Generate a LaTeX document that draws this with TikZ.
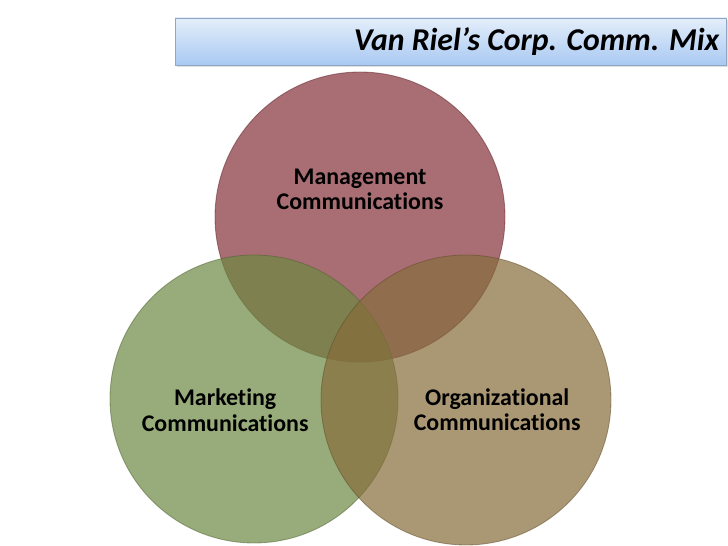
\documentclass[tikz,border=0pt]{standalone}
\usepackage{fontspec}
\setmainfont{Carlito}[Ligatures=CommonOff]
\usetikzlibrary{positioning,calc,shadows}
\definecolor{mgmtred}{RGB}{131,48,56}
\definecolor{mktgreen}{RGB}{108,136,65}
\definecolor{orgtan}{RGB}{134,108,59}
\definecolor{titletop}{HTML}{E4EEFA}
\definecolor{titlebot}{HTML}{A9C9F2}
\definecolor{titleline}{HTML}{8DA7C4}

\begin{document}
\begin{tikzpicture}
\useasboundingbox (0,0) rectangle (18.2,13.65);
% title bar
\node[draw=titleline,top color=titletop,bottom color=titlebot,minimum width=13.775cm,minimum height=1.175cm,
 inner sep=0pt,drop shadow={opacity=0.25,shadow xshift=0.04cm,shadow yshift=-0.06cm}] (titlebar) at (11.2625,12.6125) {};
\node[anchor=east,font=\bfseries\itshape\fontsize{22.6}{26}\selectfont,inner sep=0pt] (title)
 at ($(titlebar.east)+(-0.17,0)$) {Van Riel’s Corp. Comm. Mix};
% the three circles
\node[circle,minimum size=7.25cm,inner sep=0pt,fill=mgmtred,fill opacity=0.7,draw=mgmtred!70!black,
 draw opacity=0.5,line width=0.6pt] (mgmt) at (9.0,8.225) {};
\node[circle,minimum size=7.2cm,inner sep=0pt,fill=mktgreen,fill opacity=0.7,draw=mktgreen!70!black,
 draw opacity=0.5,line width=0.6pt] (mkt) at (6.35,3.675) {};
\node[circle,minimum size=7.25cm,inner sep=0pt,fill=orgtan,fill opacity=0.7,draw=orgtan!70!black,
 draw opacity=0.5,line width=0.6pt] (org) at (11.65,3.65) {};
% labels
\node[align=center,font=\bfseries\fontsize{17}{17.8}\selectfont] (mgmtlabel) at ($(mgmt)+(0,0.68)$)
 {Management\\Communications};
\node[align=center,font=\bfseries\fontsize{17}{17.8}\selectfont] (mktlabel) at ($(mkt)+(-0.72,-0.28)$)
 {Marketing\\Communications};
\node[align=center,font=\bfseries\fontsize{17}{17.8}\selectfont] (orglabel) at ($(org)+(0.78,-0.25)$)
 {Organizational\\Communications};
\end{tikzpicture}
\end{document}
